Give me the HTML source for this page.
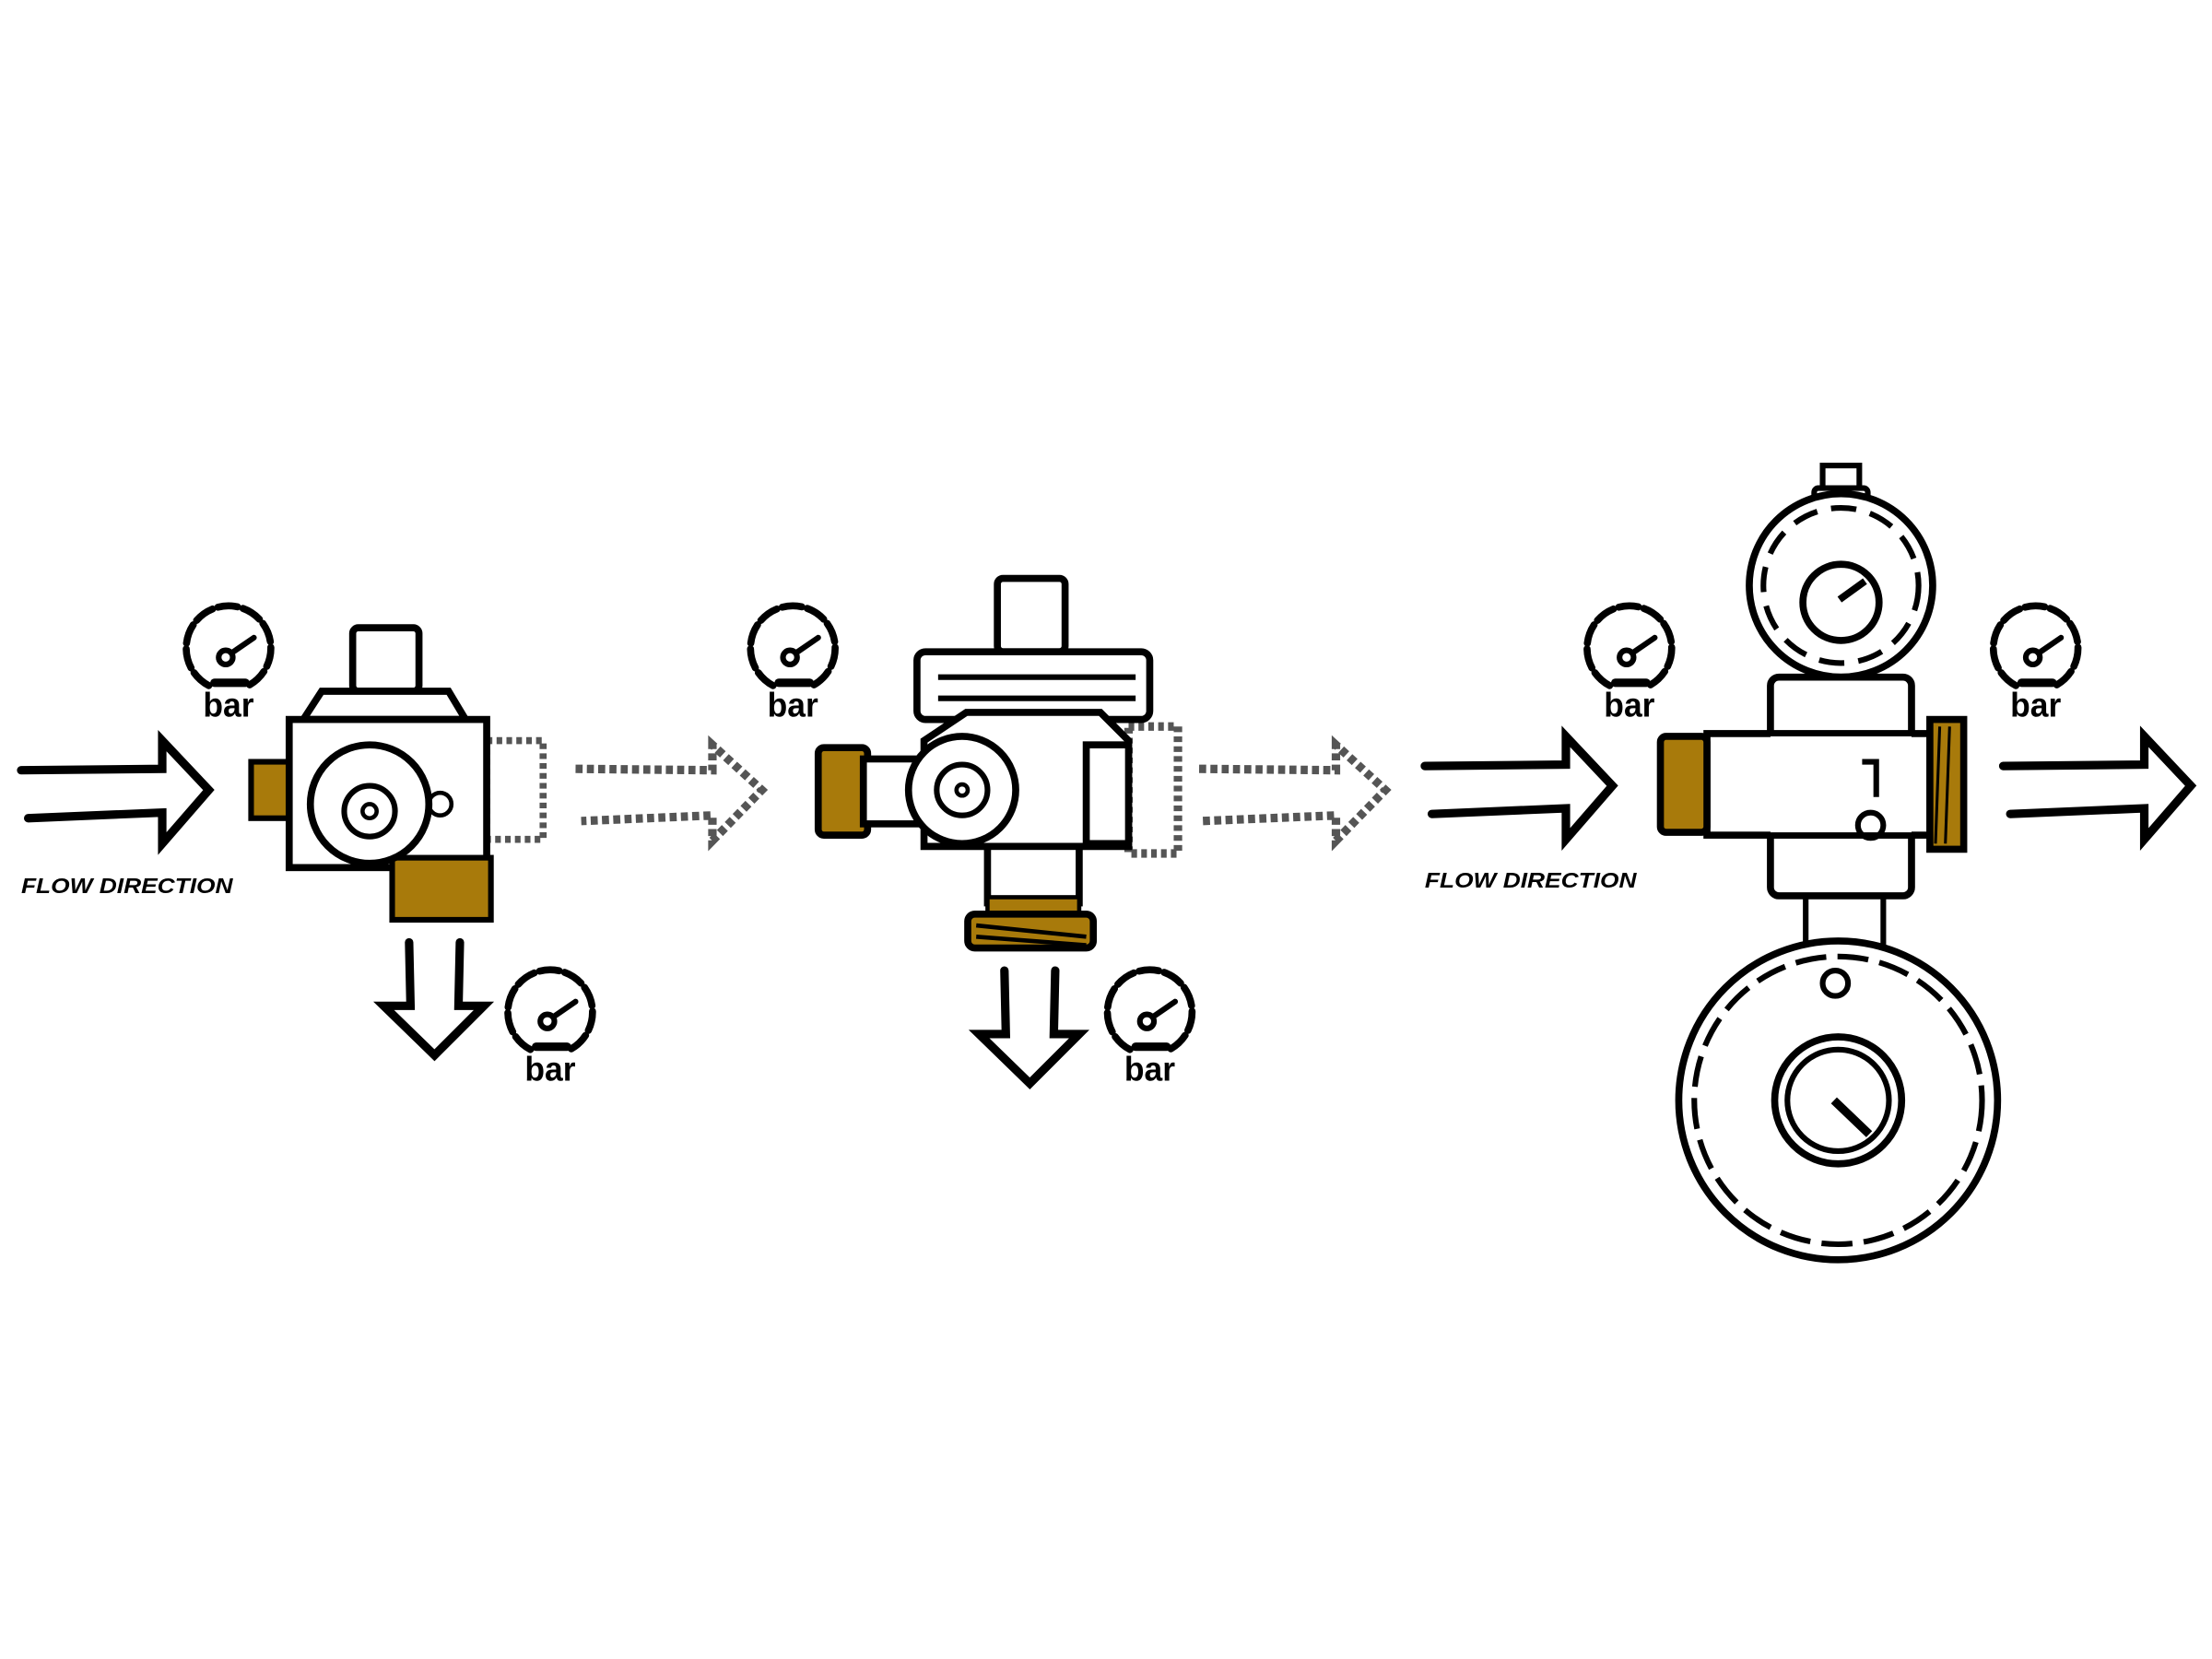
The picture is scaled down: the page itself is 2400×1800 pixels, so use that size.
<!DOCTYPE html>
<html><head><meta charset="utf-8"><style>
html,body{margin:0;padding:0;background:#fff;width:2400px;height:1800px;overflow:hidden}
svg{display:block}
text{font-family:"Liberation Sans",sans-serif;font-weight:bold;fill:#000}
</style></head><body>
<svg width="2400" height="1800" viewBox="0 0 1568 1176" xmlns="http://www.w3.org/2000/svg">
<defs>
<g id="gauge">
 <path d="M-14,26 A30,30 0 1 1 14,26" fill="none" stroke="#000" stroke-width="5" stroke-dasharray="14 4" stroke-linecap="round"/>
 <circle cx="-2" cy="6" r="5" fill="none" stroke="#000" stroke-width="4"/>
 <line x1="2" y1="3" x2="18" y2="-8" stroke="#000" stroke-width="4" stroke-linecap="round"/>
 <line x1="-10" y1="24" x2="12" y2="24" stroke="#000" stroke-width="6" stroke-linecap="round"/>
 <text x="0" y="48" font-size="24" text-anchor="middle" textLength="36" lengthAdjust="spacingAndGlyphs">bar</text>
</g>
<g id="rarrow">
 <path d="M0,-14 L100,-15 L100,-35 L133,0 L100,38 L100,16 L5,20" fill="none" stroke="#000" stroke-width="6" stroke-linejoin="miter" stroke-linecap="round"/>
</g>
<g id="darrow">
 <path d="M0,0 L1,45 L-18,45 L18,80 L53,45 L35,45 L36,0" fill="none" stroke="#000" stroke-width="6" stroke-linecap="round"/>
</g>
</defs>

<!-- Section 1 -->
<use href="#rarrow" x="15" y="560"/>
<text x="15" y="633" font-size="15" font-style="italic" textLength="150" lengthAdjust="spacingAndGlyphs">FLOW DIRECTION</text>
<use href="#gauge" x="162" y="460"/>
<rect x="178" y="540" width="37" height="40" fill="#a87a0b" stroke="#000" stroke-width="4"/>
<rect x="345" y="525" width="40" height="70" fill="none" stroke="#555" stroke-width="5" stroke-dasharray="4 3"/>
<rect x="250" y="445" width="47" height="45" fill="#fff" stroke="#000" stroke-width="5" rx="4"/>
<path d="M228,490 L318,490 L330,510 L215,510 Z" fill="#fff" stroke="#000" stroke-width="5"/>
<rect x="205" y="510" width="140" height="105" fill="#fff" stroke="#000" stroke-width="5"/>
<rect x="278" y="608" width="70" height="44" fill="#a87a0b" stroke="#000" stroke-width="4"/>
<circle cx="262" cy="570" r="42" fill="#fff" stroke="#000" stroke-width="5"/>
<circle cx="262" cy="575" r="18" fill="none" stroke="#000" stroke-width="4"/>
<circle cx="262" cy="575" r="5" fill="none" stroke="#000" stroke-width="3"/>
<circle cx="312" cy="570" r="8" fill="none" stroke="#000" stroke-width="3"/>
<use href="#darrow" x="290" y="668"/>
<use href="#gauge" x="390" y="718"/>

<!-- dashed arrow 1 -->
<path d="M408,545 L505,546 L505,528 L540,560 L505,596 L505,578 L412,582" fill="none" stroke="#555" stroke-width="6" stroke-dasharray="5 3"/>

<!-- Section 2 -->
<use href="#gauge" x="562" y="460"/>
<rect x="800" y="515" width="35" height="90" fill="none" stroke="#555" stroke-width="6" stroke-dasharray="4 3"/>
<rect x="707" y="410" width="48" height="52" fill="#fff" stroke="#000" stroke-width="5" rx="4"/>
<rect x="650" y="462" width="165" height="48" fill="#fff" stroke="#000" stroke-width="5" rx="6"/>
<line x1="665" y1="480" x2="805" y2="480" stroke="#000" stroke-width="4"/>
<line x1="665" y1="495" x2="805" y2="495" stroke="#000" stroke-width="4"/>
<rect x="580" y="530" width="35" height="62" fill="#a87a0b" stroke="#000" stroke-width="5" rx="4"/>
<rect x="612" y="538" width="45" height="46" fill="#fff" stroke="#000" stroke-width="5"/>
<path d="M655,525 L685,505 L780,505 L800,525 L800,600 L655,600 Z" fill="#fff" stroke="#000" stroke-width="5"/>
<rect x="770" y="528" width="30" height="70" fill="#fff" stroke="#000" stroke-width="5"/>
<circle cx="682" cy="560" r="38" fill="#fff" stroke="#000" stroke-width="5"/>
<circle cx="682" cy="560" r="18" fill="none" stroke="#000" stroke-width="4"/>
<circle cx="682" cy="560" r="4" fill="none" stroke="#000" stroke-width="3"/>
<rect x="700" y="600" width="65" height="40" fill="#fff" stroke="#000" stroke-width="5"/>
<rect x="700" y="636" width="65" height="12" fill="#a87a0b" stroke="#000" stroke-width="3"/>
<rect x="686" y="648" width="89" height="24" fill="#a87a0b" stroke="#000" stroke-width="5" rx="5"/>
<path d="M692,656 L770,664 M692,664 L770,670" stroke="#000" stroke-width="3"/>
<use href="#darrow" x="712" y="688"/>
<use href="#gauge" x="815" y="718"/>

<!-- dashed arrow 2 -->
<path d="M850,545 L947,546 L947,528 L982,560 L947,596 L947,578 L852,582" fill="none" stroke="#555" stroke-width="6" stroke-dasharray="5 3"/>

<!-- Section 3 -->
<use href="#rarrow" x="1010" y="557"/>
<text x="1010" y="629" font-size="15" font-style="italic" textLength="150" lengthAdjust="spacingAndGlyphs">FLOW DIRECTION</text>
<use href="#gauge" x="1155" y="460"/>
<use href="#gauge" x="1443" y="460"/>
<use href="#rarrow" x="1420" y="557"/>

<rect x="1292" y="330" width="26" height="18" fill="#fff" stroke="#000" stroke-width="4"/>
<rect x="1286" y="346" width="38" height="8" fill="#fff" stroke="#000" stroke-width="4" rx="3"/>
<circle cx="1305" cy="415" r="65" fill="#fff" stroke="#000" stroke-width="5"/>
<circle cx="1305" cy="415" r="55" fill="none" stroke="#000" stroke-width="4" stroke-dasharray="18 10"/>
<circle cx="1305" cy="427" r="27" fill="none" stroke="#000" stroke-width="5"/>
<line x1="1304" y1="425" x2="1322" y2="412" stroke="#000" stroke-width="5"/>
<rect x="1280" y="635" width="55" height="45" fill="#fff" stroke="#000" stroke-width="4"/>
<rect x="1255" y="480" width="100" height="155" fill="#fff" stroke="#000" stroke-width="5" rx="6"/>
<rect x="1210" y="520" width="165" height="72" fill="#fff" stroke="#000" stroke-width="5"/>
<rect x="1255" y="522" width="100" height="68" fill="#fff"/>
<rect x="1177" y="522" width="33" height="68" fill="#a87a0b" stroke="#000" stroke-width="5" rx="4"/>
<rect x="1368" y="510" width="24" height="92" fill="#a87a0b" stroke="#000" stroke-width="5"/>
<path d="M1375,515 L1372,598 M1382,515 L1379,598" stroke="#000" stroke-width="2"/>
<path d="M1320,540 L1330,540 L1330,565" fill="none" stroke="#000" stroke-width="4"/>
<circle cx="1326" cy="585" r="9" fill="none" stroke="#000" stroke-width="4"/>
<circle cx="1303" cy="780" r="113" fill="#fff" stroke="#000" stroke-width="5"/>
<circle cx="1303" cy="780" r="102" fill="none" stroke="#000" stroke-width="4" stroke-dasharray="22 8"/>
<circle cx="1303" cy="780" r="45" fill="none" stroke="#000" stroke-width="5"/>
<circle cx="1303" cy="780" r="36" fill="none" stroke="#000" stroke-width="4"/>
<line x1="1300" y1="780" x2="1325" y2="804" stroke="#000" stroke-width="6"/>
<circle cx="1301" cy="697" r="9" fill="none" stroke="#000" stroke-width="4"/>
</svg>
</body></html>
